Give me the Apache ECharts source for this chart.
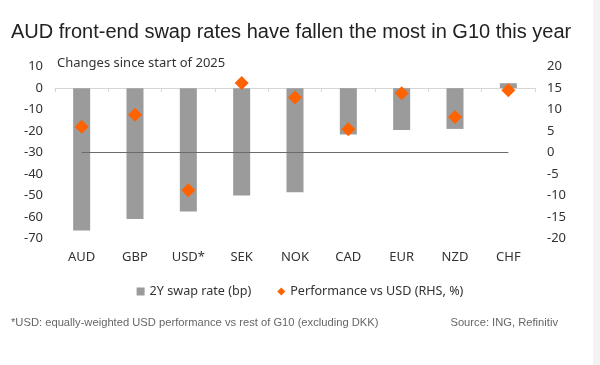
<!DOCTYPE html>
<html>
<head>
<meta charset="utf-8">
<script src="https://cdn.jsdelivr.net/npm/echarts@6/dist/echarts.min.js"></script>
<style>html,body{margin:0;padding:0;background:#fff;}#c{width:600px;height:365px;}</style>
</head>
<body>
<div id="c"></div>
<script>
const categories = ['AUD', 'GBP', 'USD*', 'SEK', 'NOK', 'CAD', 'EUR', 'NZD', 'CHF'];
const swapRate = [-66.4, -61, -57.5, -50, -48.5, -21.6, -19.5, -19, 2.3];
const performance = [6.0, 8.8, -8.8, 16.2, 12.8, 5.4, 13.8, 8.3, 14.5];
const leftTicks = { min: -70, max: 10, interval: 10 };
const rightTicks = { min: -20, max: 20, interval: 5 };
const seriesNames = ['2Y swap rate (bp)', 'Performance vs USD (RHS, %)'];

const chartFont = 'Noto Sans';
const chart = echarts.init(document.getElementById('c'), null, { renderer: 'canvas' });
chart.setOption({
  animation: false,
  backgroundColor: '#ffffff',
  grid: { left: 55, right: 65, top: 66.7, bottom: 126.7, containLabel: false },
  legend: {
    top: 280, left: 'center',
    itemWidth: 8, itemHeight: 8, itemGap: 26,
    textStyle: { fontFamily: chartFont, fontSize: 12.6, color: '#333' },
    data: [{ name: seriesNames[0], icon: 'rect' }, { name: seriesNames[1], icon: 'diamond' }]
  },
  xAxis: [
    {
      type: 'category', data: categories, position: 'bottom',
      axisLine: { show: false, onZero: false }, axisTick: { show: false },
      axisLabel: { fontFamily: chartFont, fontSize: 13, color: '#333', margin: 12 }
    },
    {
      type: 'category', data: categories, position: 'bottom',
      axisLine: { show: true, onZero: true, onZeroAxisIndex: 0, lineStyle: { color: '#d6d6d6', width: 1 } },
      axisTick: { show: true, length: 4, lineStyle: { color: '#d6d6d6' } },
      axisLabel: { show: false }
    }
  ],
  yAxis: [
    {
      type: 'value', min: leftTicks.min, max: leftTicks.max, interval: leftTicks.interval,
      axisLine: { show: false }, axisTick: { show: false }, splitLine: { show: false },
      axisLabel: { fontFamily: chartFont, fontSize: 13, color: '#333', margin: 12 }
    },
    {
      type: 'value', min: rightTicks.min, max: rightTicks.max, interval: rightTicks.interval,
      position: 'right',
      axisLine: { show: false }, axisTick: { show: false }, splitLine: { show: false },
      axisLabel: { fontFamily: chartFont, fontSize: 13, color: '#333', margin: 12 }
    }
  ],
  series: [
    {
      name: seriesNames[0], type: 'bar', xAxisIndex: 0, yAxisIndex: 0,
      data: swapRate, barWidth: 17,
      itemStyle: { color: '#9b9b9b' }, z: 2
    },
    {
      name: seriesNames[1], type: 'scatter', xAxisIndex: 0, yAxisIndex: 1,
      data: performance, symbol: 'diamond', symbolSize: 14,
      itemStyle: { color: '#ff6200', opacity: 1 }, z: 4,
      markLine: {
        silent: true, symbol: 'none', label: { show: false },
        lineStyle: { color: '#6b6b6b', width: 1, type: 'solid' },
        data: [[{ coord: [categories[0], 0] }, { coord: [categories[categories.length - 1], 0] }]]
      }
    }
  ],
  graphic: [
    { type: 'rect', shape: { x: 593, y: 0, width: 7, height: 365 }, style: { fill: '#f3f3f3' }, silent: true },
    { type: 'text', x: 11, y: 32, style: { text: 'AUD front-end swap rates have fallen the most in G10 this year', font: '20px "Liberation Sans"', fill: '#222', textVerticalAlign: 'middle' } },
    { type: 'text', x: 57, y: 63, style: { text: 'Changes since start of 2025', font: '13px "Noto Sans"', fill: '#333', textVerticalAlign: 'middle' } },
    { type: 'text', x: 11, y: 323, style: { text: '*USD: equally-weighted USD performance vs rest of G10 (excluding DKK)', font: '11.2px "Liberation Sans"', fill: '#666', textVerticalAlign: 'middle' } },
    { type: 'text', x: 558, y: 323, style: { text: 'Source: ING, Refinitiv', font: '11.2px "Liberation Sans"', fill: '#666', textVerticalAlign: 'middle', textAlign: 'right' } }
  ]
});
</script>
</body>
</html>
